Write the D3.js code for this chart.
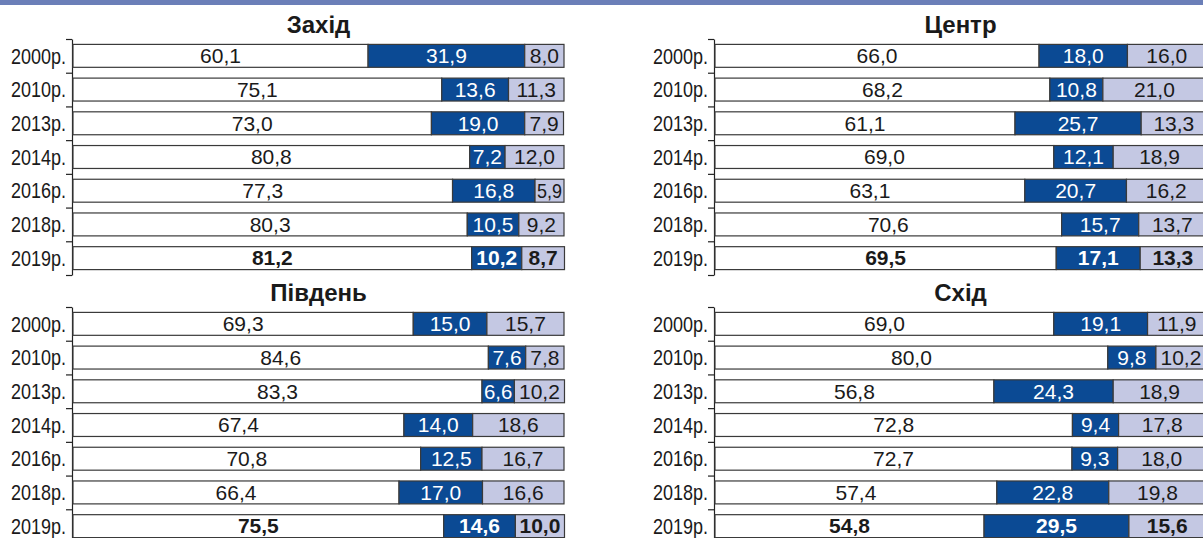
<!DOCTYPE html>
<html><head><meta charset="utf-8">
<script src="https://cdn.jsdelivr.net/npm/d3@7"></script>
<style>
html,body{margin:0;padding:0;background:#fff;}
svg{display:block;}
</style></head>
<body>
<svg id="c" width="1203" height="538"></svg>
<script>
const years = ["2000р.","2010р.","2013р.","2014р.","2016р.","2018р.","2019р."];
const panelTitles = ["Захід","Центр","Південь","Схід"];

const zakhidA = [60.1, 75.1, 73.0, 80.8, 77.3, 80.3, 81.2];
const zakhidB = [31.9, 13.6, 19.0, 7.2, 16.8, 10.5, 10.2];
const zakhidC = [8.0, 11.3, 7.9, 12.0, 5.9, 9.2, 8.7];

const tsentrA = [66.0, 68.2, 61.1, 69.0, 63.1, 70.6, 69.5];
const tsentrB = [18.0, 10.8, 25.7, 12.1, 20.7, 15.7, 17.1];
const tsentrC = [16.0, 21.0, 13.3, 18.9, 16.2, 13.7, 13.3];

const pivdenA = [69.3, 84.6, 83.3, 67.4, 70.8, 66.4, 75.5];
const pivdenB = [15.0, 7.6, 6.6, 14.0, 12.5, 17.0, 14.6];
const pivdenC = [15.7, 7.8, 10.2, 18.6, 16.7, 16.6, 10.0];

const skhidA = [69.0, 80.0, 56.8, 72.8, 72.7, 57.4, 54.8];
const skhidB = [19.1, 9.8, 24.3, 9.4, 9.3, 22.8, 29.5];
const skhidC = [11.9, 10.2, 18.9, 17.8, 18.0, 19.8, 15.6];

const panelData = [
  [zakhidA, zakhidB, zakhidC],
  [tsentrA, tsentrB, tsentrC],
  [pivdenA, pivdenB, pivdenC],
  [skhidA, skhidB, skhidC]
];

const fills = ["#ffffff", "#0b4a94", "#c4c8e3"];
const textCols = ["#1a1a1a", "#ffffff", "#1a1a1a"];

const svg = d3.select("#c");
svg.append("rect").attr("x",0).attr("y",0).attr("width",1203).attr("height",5).attr("fill","#6b7fb8");

const layout = [
  {ax:72, top:39},
  {ax:714, top:39},
  {ax:72, top:307},
  {ax:714, top:307}
];
const H = 236, W = 491;
const fmt = v => d3.format(".1f")(v).replace(".", ",");

panelData.forEach((series, pi) => {
  const L = layout[pi];
  const g = svg.append("g");
  const x = d3.scaleLinear().domain([0,100]).range([L.ax+1, L.ax+1+W]);
  const y = d3.scaleBand().domain(years).range([L.top, L.top+H]).paddingInner(0.32).paddingOuter(0.16);
  const yb = d3.scaleLinear().domain([0, years.length]).range([L.top, L.top+H]);

  // title
  g.append("text")
    .attr("x", L.ax+1+W/2).attr("y", L.top-6)
    .attr("text-anchor","middle")
    .attr("font-family","'Liberation Sans', Arial, sans-serif")
    .attr("font-weight","bold").attr("font-size",24).attr("fill","#1a1a1a")
    .text(panelTitles[pi]);

  // axis
  const axis = d3.axisLeft(yb).tickValues(d3.range(years.length+1)).tickSize(6).tickSizeOuter(0).tickFormat("");
  const ag = g.append("g").attr("transform",`translate(${L.ax},0)`).call(axis);
  ag.selectAll("path,line").attr("stroke","#222").attr("stroke-width",1.2);

  // year labels (condensed to match the narrow face of the original)
  g.selectAll(".yl").data(years).join("text")
    .attr("x", L.ax-6).attr("y", d => y(d)+y.bandwidth()/2)
    .attr("dy","0.35em").attr("text-anchor","end")
    .attr("font-family","'Liberation Sans', Arial, sans-serif")
    .attr("font-size",22).attr("fill","#1a1a1a")
    .attr("textLength", 55).attr("lengthAdjust","spacingAndGlyphs")
    .text(d => d);

  years.forEach((yr, i) => {
    let cum = 0;
    const bold = i === years.length-1;
    series.forEach((arr, si) => {
      const v = arr[i];
      const x0 = x(cum), x1 = x(cum+v);
      cum += v;
      g.append("rect")
        .attr("x", x0).attr("y", y(yr))
        .attr("width", x1-x0).attr("height", y.bandwidth())
        .attr("fill", fills[si]).attr("stroke","#3a3a3a").attr("stroke-width",1.2);
      const t = g.append("text")
        .attr("x",(x0+x1)/2).attr("y", y(yr)+y.bandwidth()/2)
        .attr("dy","0.35em").attr("text-anchor","middle")
        .attr("font-family","'Liberation Sans', Arial, sans-serif")
        .attr("font-size",21).attr("font-weight", bold ? "bold" : "normal")
        .attr("fill", textCols[si])
        .text(fmt(v));
      const tl = t.node().getComputedTextLength();
      const avail = (x1-x0) - 4;
      if (tl > avail) {
        t.attr("textLength", avail).attr("lengthAdjust","spacingAndGlyphs");
      }
    });
  });
});
</script>
</body></html>
